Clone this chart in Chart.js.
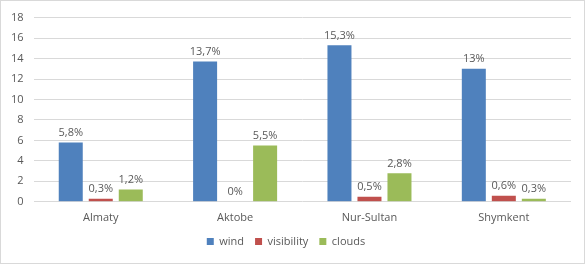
<!DOCTYPE html>
<html>
<head>
<meta charset="utf-8">
<script src="https://cdn.jsdelivr.net/npm/chart.js@4"></script>
<style>
  html, body { margin: 0; padding: 0; background: #fff; }
  #wrap { width: 585px; height: 264px; box-sizing: border-box; border: 1px solid #d9d9d9; }
</style>
</head>
<body>
<div id="wrap"><canvas id="chart"></canvas></div>
<script>
const cities = ["Almaty", "Aktobe", "Nur-Sultan", "Shymkent"];
const wind = [5.8, 13.7, 15.3, 13];
const visibility = [0.3, 0, 0.5, 0.6];
const clouds = [1.2, 5.5, 2.8, 0.3];
const windLabels = ["5,8%", "13,7%", "15,3%", "13%"];
const visibilityLabels = ["0,3%", "0%", "0,5%", "0,6%"];
const cloudsLabels = ["1,2%", "5,5%", "2,8%", "0,3%"];
const yTicks = [0, 2, 4, 6, 8, 10, 12, 14, 16, 18];

const textColor = "#595959";
const fontFamily = "'Open Sans', 'Liberation Sans', sans-serif";

// writes the value label above each bar
const barLabels = {
  id: "barLabels",
  afterDatasetsDraw(chart) {
    const ctx = chart.ctx;
    ctx.save();
    ctx.font = "11px " + fontFamily;
    ctx.fillStyle = textColor;
    ctx.textAlign = "center";
    ctx.textBaseline = "bottom";
    chart.data.datasets.forEach((ds, i) => {
      chart.getDatasetMeta(i).data.forEach((bar, j) => {
        ctx.fillText(ds.valueLabels[j], bar.x, bar.y - 4);
      });
    });
    ctx.restore();
  },
};

new Chart(document.getElementById("chart"), {
  type: "bar",
  data: {
    labels: cities,
    datasets: [
      { label: "wind", data: wind, valueLabels: windLabels, backgroundColor: "#4f81bd" },
      { label: "visibility", data: visibility, valueLabels: visibilityLabels, backgroundColor: "#c0504d" },
      { label: "clouds", data: clouds, valueLabels: cloudsLabels, backgroundColor: "#9bbb59" },
    ],
  },
  options: {
    responsive: true,
    maintainAspectRatio: false,
    animation: false,
    categoryPercentage: 0.67,
    barPercentage: 0.8,
    layout: { padding: { top: 8, right: 13, left: 0, bottom: 6 } },
    scales: {
      x: {
        grid: { display: false },
        border: { display: false },
        ticks: { color: textColor, font: { size: 11, family: fontFamily }, padding: 1 },
      },
      y: {
        min: 0,
        max: 18,
        afterBuildTicks(axis) {
          axis.ticks = yTicks.map((v) => ({ value: v }));
        },
        grid: { color: "#d9d9d9", drawTicks: false },
        border: { display: false },
        ticks: { color: textColor, font: { size: 11, family: fontFamily }, padding: 10 },
      },
    },
    plugins: {
      legend: {
        position: "bottom",
        labels: {
          color: textColor,
          font: { size: 11, family: fontFamily },
          boxWidth: 7,
          boxHeight: 7,
          padding: 11,
        },
      },
      tooltip: { enabled: false },
    },
  },
  plugins: [barLabels],
});
</script>
</body>
</html>
